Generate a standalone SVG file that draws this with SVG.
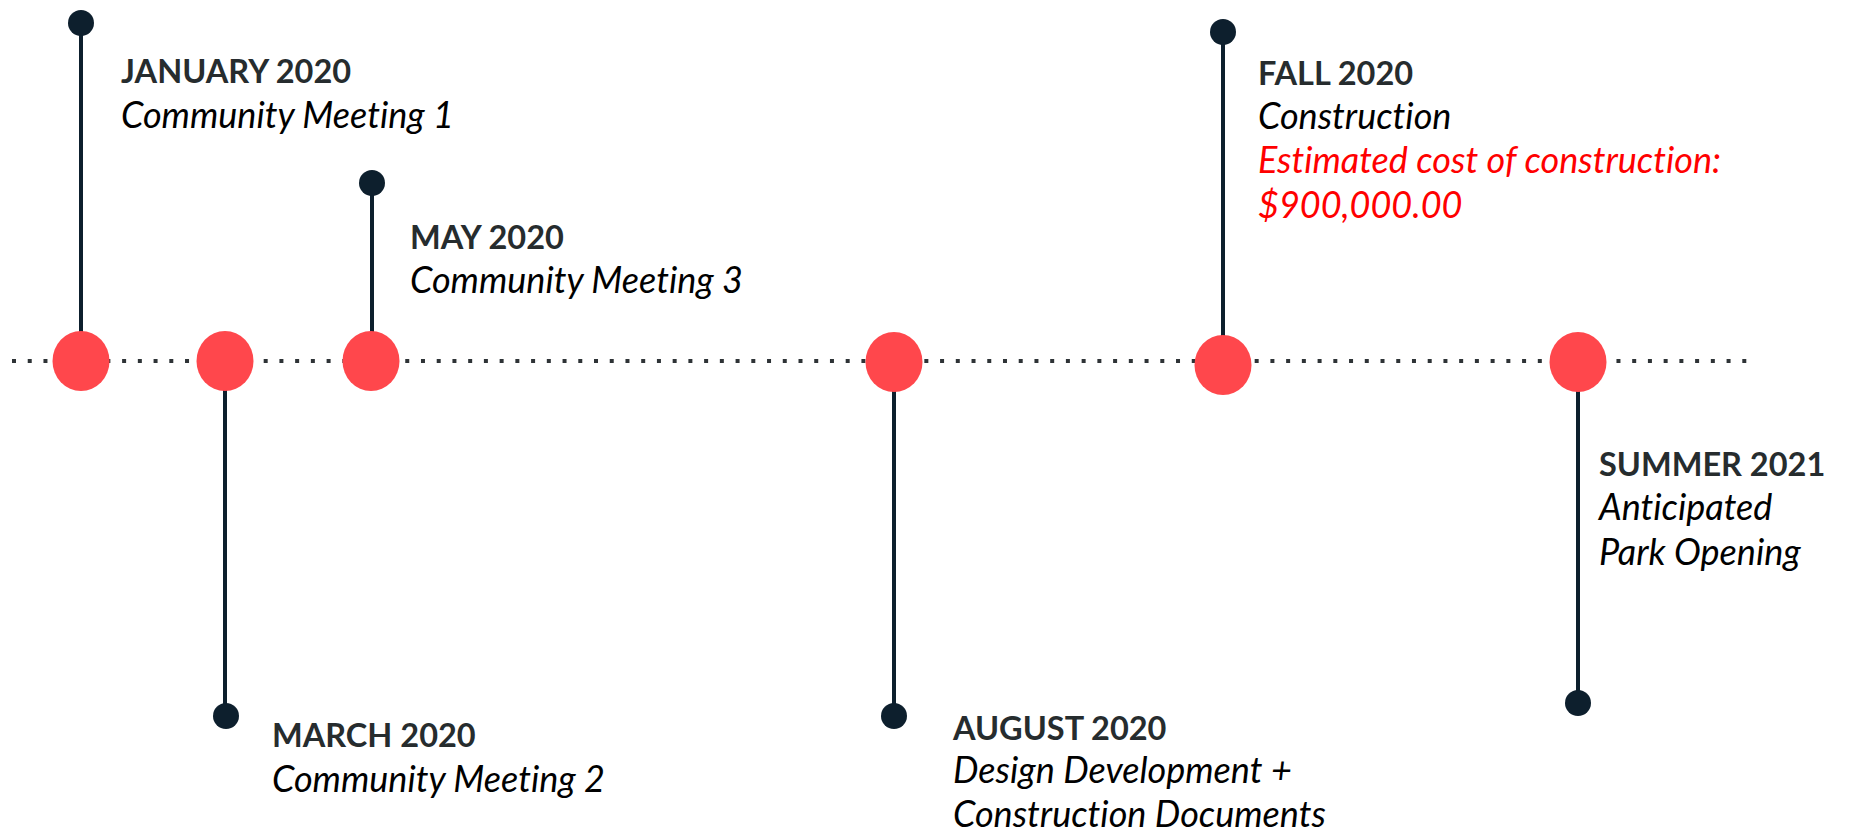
<svg xmlns="http://www.w3.org/2000/svg" width="1851" height="834" viewBox="0 0 1851 834">
  <style>
    .axis { stroke: #2e3336; stroke-width: 4; stroke-dasharray: 4 11.73; fill: none; }
    .stem { stroke: #0d1f2d; stroke-width: 4; fill: none; }
    .pin { fill: #0d1f2d; }
    .mark { fill: #ff474c; }
    text { font-variant-ligatures: none; font-feature-settings: "liga" 0, "dlig" 0; }
    .title { font-family: Lato, "Liberation Sans", sans-serif; font-weight: 700; font-size: 32.5px; fill: #262c2e; }
    .desc { font-family: Lato, "Liberation Sans", sans-serif; font-style: italic; font-size: 36px; fill: #000000; }
    .cost { fill: #ff0000; }
  </style>
  <rect width="1851" height="834" fill="#ffffff"/>

  <!-- timeline axis and stems -->
  <g id="connectors">
    <line class="axis" x1="12" y1="361" x2="1747" y2="361"/>
    <line class="stem" x1="81" y1="23" x2="81" y2="361"/>
    <line class="stem" x1="225" y1="361" x2="225" y2="716"/>
    <line class="stem" x1="372" y1="183" x2="372" y2="361"/>
    <line class="stem" x1="894" y1="362" x2="894" y2="716"/>
    <line class="stem" x1="1223" y1="32" x2="1223" y2="365"/>
    <line class="stem" x1="1578" y1="362" x2="1578" y2="703"/>
  </g>

  <g id="jan-2020">
    <ellipse class="mark" cx="81" cy="361" rx="28.5" ry="30"/>
    <circle class="pin" cx="81" cy="23" r="13"/>
    <text class="title" x="121" y="83">JANUARY 2020</text>
    <text class="desc" x="121" y="128">Community Meeting 1</text>
  </g>

  <g id="mar-2020">
    <ellipse class="mark" cx="225" cy="361" rx="28.5" ry="30"/>
    <circle class="pin" cx="226" cy="716" r="13"/>
    <text class="title" x="272" y="747">MARCH 2020</text>
    <text class="desc" x="272" y="792">Community Meeting 2</text>
  </g>

  <g id="may-2020">
    <ellipse class="mark" cx="371" cy="361" rx="28.5" ry="30"/>
    <circle class="pin" cx="372" cy="183" r="13"/>
    <text class="title" x="410" y="249">MAY 2020</text>
    <text class="desc" x="410" y="293">Community Meeting 3</text>
  </g>

  <g id="aug-2020">
    <ellipse class="mark" cx="894" cy="362" rx="28.5" ry="30"/>
    <circle class="pin" cx="894" cy="716" r="13"/>
    <text class="title" x="953" y="740">AUGUST 2020</text>
    <text class="desc" x="953" y="783">Design Development +</text>
    <text class="desc" x="953" y="827">Construction Documents</text>
  </g>

  <g id="fall-2020">
    <ellipse class="mark" cx="1223" cy="365" rx="28.5" ry="30"/>
    <circle class="pin" cx="1223" cy="32" r="13"/>
    <text class="title" x="1258" y="85">FALL 2020</text>
    <text class="desc" x="1258" y="129">Construction</text>
    <text class="desc cost" x="1258" y="173">Estimated cost of construction:</text>
    <text class="desc cost" x="1258" y="218">$900,000.00</text>
  </g>

  <g id="summer-2021">
    <ellipse class="mark" cx="1578" cy="362" rx="28.5" ry="30"/>
    <circle class="pin" cx="1578" cy="703" r="13"/>
    <text class="title" x="1599" y="476">SUMMER 2021</text>
    <text class="desc" x="1599" y="520">Anticipated</text>
    <text class="desc" x="1599" y="565">Park Opening</text>
  </g>
</svg>
